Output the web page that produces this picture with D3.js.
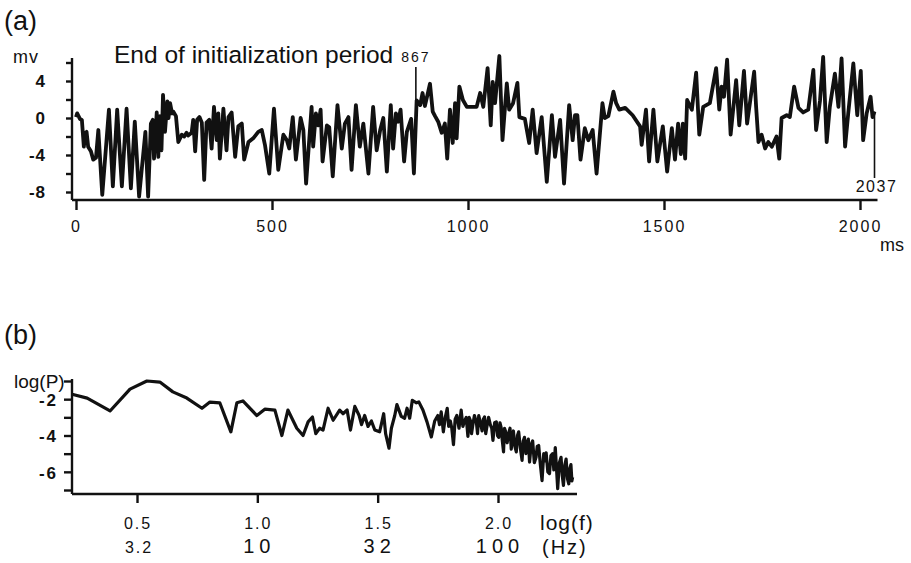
<!DOCTYPE html>
<html><head><meta charset="utf-8">
<script src="https://cdn.jsdelivr.net/npm/d3@7/dist/d3.min.js"></script>
<style>
body{margin:0;background:#fff;}
svg{display:block;font-family:"Liberation Sans",Arial,Helvetica,sans-serif;}
</style></head><body>
<svg id="chart" width="911" height="563"></svg>
<script>
// ---- Panel (a): membrane potential trace ----
const timeMs = [0,3,10,15,20,24,27,31,38,44,51,57,67,84,94,105,117,129,140,150,161,177,184,191,196,199,206,210,214,218,222,227,233,236,240,245,248,255,261,270,276,282,286,295,299,304,309,315,321,327,333,340,346,352,359,363,367,376,384,389,397,406,414,423,429,440,452,465,474,482,493,505,516,529,538,544,553,561,573,580,587,601,605,612,618,624,629,640,646,655,667,678,686,695,703,714,724,733,746,758,767,776,784,793,803,809,816,822,828,837,844,855,862,869,878,884,890,895,903,910,916,924,933,941,947,954,961,967,971,978,987,997,1009,1022,1031,1039,1050,1058,1063,1069,1080,1088,1099,1105,1115,1126,1131,1145,1156,1165,1175,1188,1201,1214,1222,1235,1245,1258,1267,1273,1279,1287,1298,1307,1318,1328,1343,1349,1358,1371,1378,1386,1401,1420,1439,1443,1454,1462,1473,1483,1497,1508,1520,1528,1536,1543,1548,1554,1559,1571,1582,1590,1600,1617,1633,1641,1647,1653,1661,1670,1684,1692,1704,1712,1730,1735,1741,1749,1758,1766,1775,1787,1794,1800,1813,1821,1832,1843,1855,1868,1881,1888,1898,1906,1915,1923,1936,1945,1953,1962,1970,1983,1993,2002,2008,2017,2027,2032,2037];
const voltageMv = [0.1,0.5,-0.1,-0.2,-3.1,-1.6,-1.5,-3.1,-3.6,-4.5,-4.3,-1.3,-8.3,0.9,-7.4,0.9,-7.4,1.0,-7.6,-0.4,-8.5,-1.5,-8.5,-0.6,-0.2,-4.4,0.6,-4.2,0.2,-3.5,2.5,-1.5,1.8,0.0,1.6,0.5,0.7,0.2,-2.6,-1.8,-2.0,-1.6,-1.9,-1.6,-0.2,-3.6,-0.2,0.1,-0.5,-6.7,-0.5,-0.2,-3.3,1.2,-2.4,0.5,-4.4,1.0,-3.5,0.1,0.6,-4.2,-0.9,-0.6,-4.5,-2.6,-2.2,-1.5,-1.3,-2.9,-6.0,1.0,-5.6,-1.8,-2.4,-3.3,0.1,-4.5,0.0,-1.3,-7.1,1.2,-3.1,0.5,-0.8,0.9,-4.7,-0.8,-1.0,-6.3,1.4,-3.3,-0.6,0.1,-5.6,1.4,-3.1,-0.6,-6.0,1.2,-3.5,-1.3,0.0,-5.8,1.4,-3.3,0.5,-0.4,0.9,-4.7,-1.5,-0.1,-6.0,1.9,1.4,2.7,1.3,2.2,3.7,0.7,0.2,-0.4,-1.6,-0.6,-4.4,0.9,-2.7,1.6,-2.2,3.4,1.95,1.2,1.2,1.2,2.7,1.2,5.4,-0.8,3.9,1.6,6.7,-2.4,3.75,0.9,1.6,3.8,0.1,-0.1,-2.7,0.9,-3.8,0.1,-6.9,0.3,-4.2,-0.2,-7.1,1.4,-2.4,0.3,0.3,-4.5,-1.1,-2.4,-1.3,-6.0,1.6,0.0,0.2,2.85,1.6,0.9,1.1,0.3,-0.9,-2.9,0.9,-4.7,0.9,-4.7,-0.9,-5.8,-1.1,-4.5,-0.6,-3.9,-0.6,-4.4,1.95,0.9,4.9,-1.8,1.2,1.6,5.4,0.9,3.4,2.3,6.3,-1.8,4.1,-0.8,5.1,-0.6,5.0,1.2,-2.6,-1.8,-3.3,-2.6,-3.1,-2.0,-4.4,0.0,0.3,0.1,3.4,1.1,0.6,0.9,5.2,-1.3,1.9,6.6,-2.6,1.2,4.8,1.2,6.45,-3.1,0.5,5.9,0.3,5.1,-2.4,0.5,2.3,0.1,0.7];
const timeTicks = [0,500,1000,1500,2000];
const mvMajorTicks = [-8,-4,0,4];
const mvMinorTicks = [-6,-2,2,6];
const initEndMs = 867;
const recordEndMs = 2037;

// ---- Panel (b): power spectrum ----
const logFreq = [0.230,0.293,0.388,0.471,0.541,0.595,0.649,0.707,0.770,0.803,0.844,0.890,0.915,0.940,0.998,1.031,1.073,1.102,1.127,1.164,1.190,1.211,1.229,1.243,1.259,1.273,1.294,1.315,1.342,1.356,1.373,1.387,1.405,1.423,1.433,1.446,1.460,1.474,1.488,1.508,1.515,1.525,1.533,1.547,1.557,1.571,1.580,1.598,1.612,1.622,1.633,1.644,1.661,1.671,1.688,1.705,1.723,1.737,
  1.750,1.757,1.764,1.769,1.773,1.781,1.789,1.795,1.802,1.808,1.815,1.822,1.829,1.838,1.847,1.854,1.861,1.868,1.875,1.880,1.885,1.890,1.895,1.902,1.910,1.915,1.920,1.927,1.934,1.939,1.944,1.949,1.954,1.961,1.968,1.974,1.979,1.986,1.993,1.998,2.003,2.008,2.013,2.018,2.023,2.027,2.031,2.038,2.045,2.050,2.055,2.060,2.064,2.070,2.076,2.081,2.086,2.093,2.100,2.105,2.110,2.116,2.121,2.126,2.131,2.138,2.144,2.151,2.158,2.163,2.169,2.176,2.183,2.190,2.195,2.200,2.207,2.214,2.220,2.227,2.232,2.238,2.243,2.248,2.255,2.262,2.267,2.272,2.278,2.283,2.289,2.294,2.299,2.303,2.307,2.310];
const logPower = [-1.73,-1.94,-2.65,-1.45,-1.0,-1.06,-1.6,-1.94,-2.5,-2.16,-2.2,-3.8,-2.2,-2.1,-2.9,-2.55,-2.6,-4.0,-2.6,-3.6,-4.0,-3.25,-2.98,-3.9,-3.6,-3.7,-2.5,-3.16,-2.6,-2.8,-2.6,-3.7,-2.4,-2.9,-3.4,-2.9,-3.5,-3.2,-3.7,-3.8,-3.4,-2.8,-3.9,-4.7,-3.6,-2.9,-2.3,-2.95,-3.05,-2.5,-3.05,-2.06,-2.2,-2.15,-2.6,-3.25,-4.08,-3.2,
  -2.9,-3.4,-2.7,-3.3,-3.8,-3.0,-2.5,-3.5,-3.2,-3.6,-4.5,-3.1,-2.9,-3.6,-2.6,-3.5,-3.2,-3.0,-4.05,-3.0,-3.16,-3.9,-3.45,-2.9,-3.25,-3.9,-2.9,-3.3,-3.75,-3.1,-2.98,-3.9,-3.5,-3.0,-3.4,-3.6,-4.27,-3.3,-3.25,-4.0,-4.1,-3.3,-3.55,-4.3,-4.9,-3.6,-3.75,-4.4,-3.85,-3.6,-4.75,-4.0,-3.75,-4.6,-4.9,-4.0,-3.8,-4.7,-5.37,-4.3,-4.1,-5.0,-4.4,-4.2,-5.46,-4.5,-4.3,-5.5,-5.2,-4.6,-4.55,-5.6,-6.48,-5.0,-5.4,-4.95,-6.0,-6.1,-5.1,-5.0,-5.9,-4.67,-5.8,-6.93,-5.5,-5.2,-6.2,-6.75,-5.6,-5.3,-6.4,-6.66,-5.8,-5.6,-6.5,-6.3];
const logPMajorTicks = [-6,-4,-2];
const logPMinorTicks = [-7,-5,-3,-1];
const logFTicks = [0.5,1.0,1.5,2.0];
const logFTickLabels = ["0.5","1.0","1.5","2.0"];
const hzTickLabels = ["3.2","10","32","100"];

const svg = d3.select("#chart");
const ink = "#111";
const plain = d => String(d);   // hyphen-minus like the original

// ===== Panel (a) =====
const xA = d3.scaleLinear().domain([0,2000]).range([76,860]);
const yA = d3.scaleLinear().domain([-8,4]).range([192,81]);
const gA = svg.append("g");

gA.append("text").attr("x",4).attr("y",30).attr("font-size",27).attr("fill",ink).text("(a)");
gA.append("text").attr("x",13).attr("y",63).attr("font-size",18).attr("fill",ink).attr("letter-spacing",1).text("mv");

// y axis
gA.append("line").attr("x1",72).attr("x2",72).attr("y1",58).attr("y2",200).attr("stroke",ink).attr("stroke-width",2.4);
const yAxA = gA.append("g").attr("transform","translate(72,0)")
  .call(d3.axisLeft(yA).tickValues(mvMajorTicks).tickSize(6).tickPadding(20).tickFormat(plain));
yAxA.select(".domain").remove();
yAxA.selectAll("line").attr("stroke",ink).attr("stroke-width",2.4);
yAxA.selectAll("text").attr("font-size",17).attr("font-weight","bold").attr("fill",ink).attr("letter-spacing",1).attr("font-family","Liberation Sans, Arial, sans-serif");
const yAxAm = gA.append("g").attr("transform","translate(72,0)")
  .call(d3.axisLeft(yA).tickValues(mvMinorTicks).tickSize(6).tickFormat(""));
yAxAm.select(".domain").remove();
yAxAm.selectAll("line").attr("stroke",ink).attr("stroke-width",2.4);

// x axis
gA.append("line").attr("x1",72).attr("x2",xA(recordEndMs)+3).attr("y1",200).attr("y2",200).attr("stroke",ink).attr("stroke-width",2.4);
const xAxA = gA.append("g").attr("transform","translate(0,200)")
  .call(d3.axisBottom(xA).tickValues(timeTicks).tickSize(10).tickPadding(11).tickFormat(plain));
xAxA.select(".domain").remove();
xAxA.selectAll("line").attr("stroke",ink).attr("stroke-width",2.4);
xAxA.selectAll("text").attr("font-size",16).attr("fill",ink).attr("letter-spacing",2).attr("font-family","Liberation Sans, Arial, sans-serif");
gA.append("text").attr("x",880).attr("y",251).attr("font-size",18).attr("fill",ink).text("ms");

// trace
const lineA = d3.line().x((d,i)=>xA(timeMs[i])).y((d,i)=>yA(voltageMv[i]));
gA.append("path").datum(timeMs).attr("d",lineA).attr("fill","none").attr("stroke",ink)
  .attr("stroke-width",3.8).attr("stroke-linejoin","round");

// initialization marker
const iInit = timeMs.findIndex(t=>t>=initEndMs);
gA.append("line").attr("x1",xA(initEndMs)).attr("x2",xA(initEndMs)).attr("y1",67).attr("y2",yA(voltageMv[iInit]))
  .attr("stroke",ink).attr("stroke-width",1.6);
gA.append("text").attr("x",114).attr("y",63).attr("font-size",24.5).attr("fill",ink).text("End of initialization period");
gA.append("text").attr("x",xA(initEndMs)).attr("y",62).attr("text-anchor","middle").attr("font-size",14).attr("letter-spacing",2).attr("fill",ink).text(String(initEndMs));

// end marker
gA.append("line").attr("x1",xA(recordEndMs)).attr("x2",xA(recordEndMs)).attr("y1",yA(voltageMv[voltageMv.length-1])).attr("y2",178)
  .attr("stroke",ink).attr("stroke-width",1.6);
gA.append("text").attr("x",xA(recordEndMs)+2).attr("y",192).attr("text-anchor","middle").attr("font-size",16).attr("letter-spacing",1.5).attr("fill",ink).text(String(recordEndMs));

// ===== Panel (b) =====
const xB = d3.scaleLinear().domain([0.5,2.0]).range([137,498]);
const yB = d3.scaleLinear().domain([-7,-1]).range([490,381]);
const gB = svg.append("g");

gB.append("text").attr("x",4).attr("y",344).attr("font-size",27).attr("fill",ink).text("(b)");
gB.append("text").attr("x",14).attr("y",388).attr("font-size",19).attr("fill",ink).text("log(P)");

gB.append("line").attr("x1",72).attr("x2",72).attr("y1",379).attr("y2",494).attr("stroke",ink).attr("stroke-width",2.4);
const yAxB = gB.append("g").attr("transform","translate(72,0)")
  .call(d3.axisLeft(yB).tickValues(logPMajorTicks).tickSize(8).tickPadding(6).tickFormat(plain));
yAxB.select(".domain").remove();
yAxB.selectAll("line").attr("stroke",ink).attr("stroke-width",2.4);
yAxB.selectAll("text").attr("font-size",17).attr("font-weight","bold").attr("fill",ink).attr("letter-spacing",2).attr("dy","0.38em").attr("font-family","Liberation Sans, Arial, sans-serif");
const yAxBm = gB.append("g").attr("transform","translate(72,0)")
  .call(d3.axisLeft(yB).tickValues(logPMinorTicks).tickSize(8).tickFormat(""));
yAxBm.select(".domain").remove();
yAxBm.selectAll("line").attr("stroke",ink).attr("stroke-width",2.4);

gB.append("line").attr("x1",72).attr("x2",577).attr("y1",494).attr("y2",494).attr("stroke",ink).attr("stroke-width",2.4);
const xAxB = gB.append("g").attr("transform","translate(0,494)")
  .call(d3.axisBottom(xB).tickValues(logFTicks).tickSize(9).tickFormat(""));
xAxB.select(".domain").remove();
xAxB.selectAll("line").attr("stroke",ink).attr("stroke-width",2.4);
gB.selectAll(".lf").data(logFTicks).join("text").attr("class","lf")
  .attr("x",d=>xB(d)+1).attr("y",529).attr("text-anchor","middle").attr("font-size",16).attr("letter-spacing",2).attr("fill",ink)
  .text((d,i)=>logFTickLabels[i]);
gB.selectAll(".hz").data(logFTicks).join("text").attr("class","hz")
  .attr("x",d=>xB(d)+2).attr("y",553).attr("text-anchor","middle").attr("font-size",(d,i)=>i===0?16:20).attr("letter-spacing",(d,i)=>i===0?2:5).attr("fill",ink)
  .text((d,i)=>hzTickLabels[i]);
gB.append("text").attr("x",540).attr("y",530).attr("font-size",21).attr("letter-spacing",1).attr("fill",ink).text("log(f)");
gB.append("text").attr("x",542).attr("y",554).attr("font-size",20).attr("letter-spacing",2).attr("fill",ink).text("(Hz)");

const lineB = d3.line().x((d,i)=>xB(logFreq[i])).y((d,i)=>yB(logPower[i]));
gB.append("path").datum(logFreq).attr("d",lineB).attr("fill","none").attr("stroke",ink)
  .attr("stroke-width",3.2).attr("stroke-linejoin","round");
</script>
</body></html>
